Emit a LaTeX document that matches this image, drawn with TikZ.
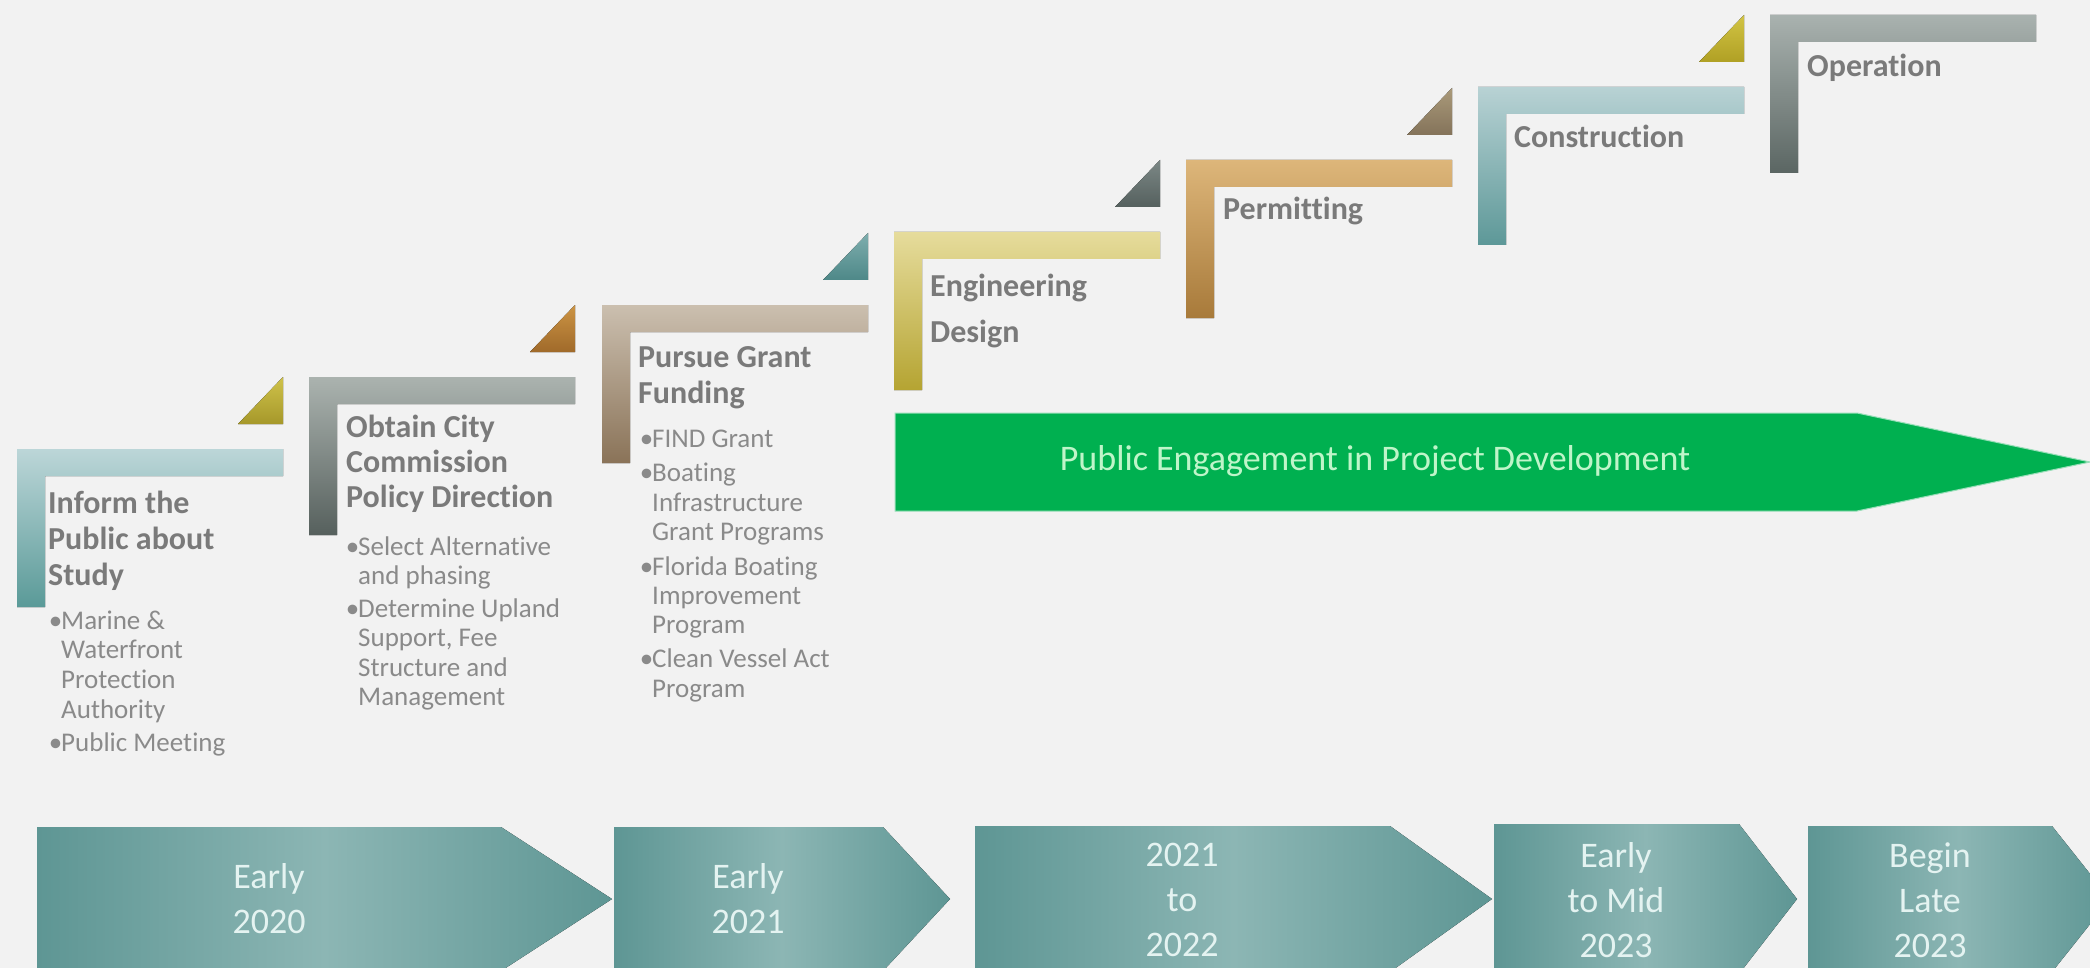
\documentclass[tikz,border=0pt]{standalone}
\usepackage{fontspec}
\setmainfont{Carlito}[Ligatures=NoCommon]
\definecolor{bg}{HTML}{F2F2F2}
\definecolor{titlegray}{HTML}{7A7A7A}
\definecolor{bulgray}{HTML}{8A8A8A}
\definecolor{whentext}{HTML}{E4F3F1}
\definecolor{tlA}{HTML}{5E9694}
\definecolor{tlB}{HTML}{8CB6B4}
\definecolor{pegreen}{HTML}{00B050}
\definecolor{petext}{HTML}{BFF5C9}
% step colours
\definecolor{s1t}{HTML}{BCD6D8}\definecolor{s1b}{HTML}{5A9A98}
\definecolor{s2t}{HTML}{ABB3AF}\definecolor{s2b}{HTML}{56605D}
\definecolor{s3t}{HTML}{CBBFAF}\definecolor{s3b}{HTML}{8A7358}
\definecolor{s4t}{HTML}{E6DC9C}\definecolor{s4b}{HTML}{B5A432}
\definecolor{s5t}{HTML}{DDB67A}\definecolor{s5b}{HTML}{A87A3A}
\definecolor{s6t}{HTML}{B8D2D4}\definecolor{s6b}{HTML}{5D9898}
\definecolor{s7t}{HTML}{A9B2AF}\definecolor{s7b}{HTML}{5B6663}
% triangle colours
\definecolor{r1t}{HTML}{CFC24A}\definecolor{r1b}{HTML}{A6982A}
\definecolor{r2t}{HTML}{CC9444}\definecolor{r2b}{HTML}{A06A2A}
\definecolor{r3t}{HTML}{7EAEAE}\definecolor{r3b}{HTML}{4E8888}
\definecolor{r4t}{HTML}{7C8886}\definecolor{r4b}{HTML}{55605E}
\definecolor{r5t}{HTML}{AA9A7A}\definecolor{r5b}{HTML}{84735A}
\definecolor{r6t}{HTML}{D2C444}\definecolor{r6b}{HTML}{B0A024}
\newcommand\stepshape[4]{%
  \fill[top color=#3,bottom color=#4] (#1,#2) -- ++(266,0) -- ++(0,27) -- ++(-238,0) -- ++(0,131) -- ++(-28,0) -- cycle;}
\newcommand\steptri[4]{%
  \fill[top color=#3,bottom color=#4] ({#1+266},{#2-72}) -- ({#1+266},{#2-25}) -- ({#1+221},{#2-25}) -- cycle;}
\newcommand\bt{\llap{\textbullet\kern-1pt}}
\begin{document}
\begin{tikzpicture}[x=1pt,y=-1pt,
  title/.style={anchor=base west,inner sep=0pt,text=titlegray,font=\fontsize{32}{38}\selectfont\bfseries},
  bul/.style={anchor=base west,inner sep=0pt,text=bulgray,font=\fontsize{27}{30}\selectfont},
  when/.style={align=center,inner sep=0pt,text=whentext,font=\fontsize{36}{45}\selectfont},
  tl/.style={left color=tlA,right color=tlA,middle color=tlB},
]
\useasboundingbox (0,0) rectangle (2090,968);
\clip (0,0) rectangle (2090,968);
\fill[bg] (0,0) rectangle (2090,968);

% ascending steps
\stepshape{17}{449}{s1t}{s1b}
\stepshape{309}{377}{s2t}{s2b}
\stepshape{602}{305}{s3t}{s3b}
\stepshape{894}{232}{s4t}{s4b}
\stepshape{1186}{160}{s5t}{s5b}
\stepshape{1478}{87}{s6t}{s6b}
\stepshape{1770}{15}{s7t}{s7b}
\steptri{17}{449}{r1t}{r1b}
\steptri{309}{377}{r2t}{r2b}
\steptri{602}{305}{r3t}{r3b}
\steptri{894}{232}{r4t}{r4b}
\steptri{1186}{160}{r5t}{r5b}
\steptri{1478}{87}{r6t}{r6b}

% titles
\node[title] (t1a) at (48,513) {Inform the};
\node[title] (t1b) at (48,549) {Public about};
\node[title] (t1c) at (48,585) {Study};
\node[title] (t2a) at (346,437) {Obtain City};
\node[title] (t2b) at (346,472) {Commission};
\node[title] (t2c) at (346,507) {Policy Direction};
\node[title] (t3a) at (638,367) {Pursue Grant};
\node[title] (t3b) at (638,403) {Funding};
\node[title] (t4a) at (930,297) {Engineering};
\node[title] (t4b) at (930,342) {Design};
\node[title] (t5) at (1223,220) {Permitting};
\node[title] (t6) at (1514,148) {Construction};
\node[title] (t7) at (1807,77) {Operation};

% bullets
\node[bul] (b1a) at (61,629) {\bt Marine \&};
\node[bul] (b1b) at (61,658) {Waterfront};
\node[bul] (b1c) at (61,688) {Protection};
\node[bul] (b1d) at (61,718) {Authority};
\node[bul] (b1e) at (61,751) {\bt Public Meeting};
\node[bul] (b2a) at (358,555) {\bt Select Alternative};
\node[bul] (b2b) at (358,584) {and phasing};
\node[bul] (b2c) at (358,617) {\bt Determine Upland};
\node[bul] (b2d) at (358,646) {Support, Fee};
\node[bul] (b2e) at (358,676) {Structure and};
\node[bul] (b2f) at (358,705) {Management};
\node[bul] (b3a) at (652,447) {\bt FIND Grant};
\node[bul] (b3b) at (652,481) {\bt Boating};
\node[bul] (b3c) at (652,511) {Infrastructure};
\node[bul] (b3d) at (652,540) {Grant Programs};
\node[bul] (b3e) at (652,575) {\bt Florida Boating};
\node[bul] (b3f) at (652,604) {Improvement};
\node[bul] (b3g) at (652,633) {Program};
\node[bul] (b3h) at (652,667) {\bt Clean Vessel Act};
\node[bul] (b3i) at (652,697) {Program};

% public engagement arrow
\fill[pegreen,draw=pegreen!40!white,line width=1pt] (895,413) -- (1857,413) -- (2090,462) -- (1857,511) -- (895,511) -- cycle;
\node[text=petext,inner sep=0pt,font=\fontsize{36}{43}\selectfont] (pe) at (1375,461) {Public Engagement in Project Development};

% timeline arrows
\fill[tl] (37,827) -- (501,827) -- (612,899) -- (501,971) -- (37,971) -- cycle;
\fill[tl] (614,827) -- (883,827) -- (950,899) -- (883,971) -- (614,971) -- cycle;
\fill[tl] (975,826) -- (1390,826) -- (1492,899) -- (1390,972) -- (975,972) -- cycle;
\fill[tl] (1494,824) -- (1739,824) -- (1797,899) -- (1739,974) -- (1494,974) -- cycle;
\fill[tl] (1808,826) -- (2052,826) -- (2110,899) -- (2052,972) -- (1808,972) -- cycle;
\node[when] (w1) at (269,899) {Early\\2020};
\node[when] (w2) at (748,899) {Early\\2021};
\node[when] (w3) at (1182,900) {2021\\to\\2022};
\node[when] (w4) at (1616,900) {Early\\to Mid\\2023};
\node[when] (w5) at (1930,900) {Begin\\Late\\2023};
\end{tikzpicture}
\end{document}
